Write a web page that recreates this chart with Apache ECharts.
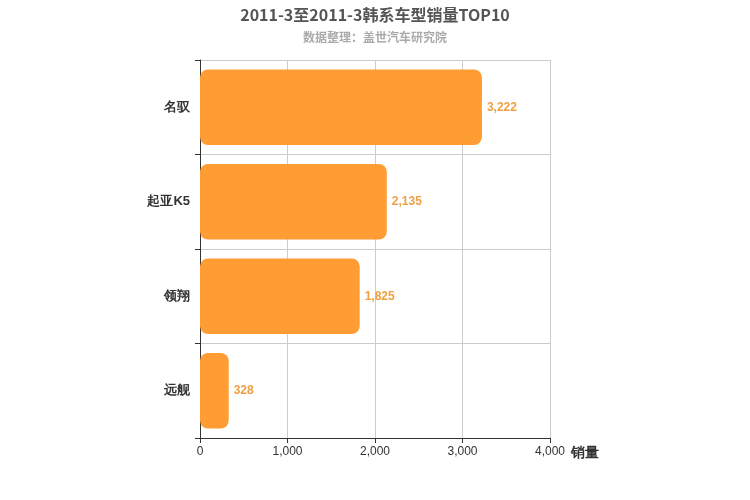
<!DOCTYPE html>
<html><head><meta charset="utf-8">
<script src="https://cdn.jsdelivr.net/npm/echarts@6/dist/echarts.min.js"></script>
<style>html,body{margin:0;padding:0;}#c{width:750px;height:500px;}</style>
</head><body><div id="c"></div>
<script>
const categories = ['名驭','起亚K5','领翔','远舰'];
const sales = [3222, 2135, 1825, 328];
const xTicks = [0, 1000, 2000, 3000, 4000];
const chart = echarts.init(document.getElementById('c'));
chart.setOption({
  title: {
    text: '2011-3至2011-3韩系车型销量TOP10',
    subtext: '数据整理：盖世汽车研究院',
    left: 'center', top: 2,
    textStyle: {fontSize: 16, fontWeight: 'bold', color: '#555', fontFamily: 'Noto Sans CJK SC'},
    subtextStyle: {fontSize: 12, fontWeight: 'bold', color: '#aaa', fontFamily: 'Noto Sans CJK SC'},
    itemGap: 8
  },
  grid: {left: 200, right: 200, top: 60, bottom: 62},
  xAxis: {
    type: 'value', min: xTicks[0], max: xTicks[xTicks.length-1], interval: 1000,
    name: '销量', nameLocation: 'end', nameGap: 15,
    nameTextStyle: {fontSize: 14, fontWeight: 'bold', color: '#333', verticalAlign: 'top', padding: [8,0,0,0]},
    axisLine: {show: true, lineStyle: {color: '#333'}},
    axisTick: {show: true},
    axisLabel: {color: '#333', fontSize: 12},
    splitLine: {lineStyle: {color: '#ccc'}}
  },
  yAxis: {
    type: 'category', data: categories, inverse: true,
    axisLine: {lineStyle: {color: '#333'}},
    axisTick: {show: true},
    axisLabel: {color: '#333', fontSize: 13, fontWeight: 'bold', margin: 10},
    splitLine: {show: true, lineStyle: {color: '#ccc'}}
  },
  series: [{
    type: 'bar', data: sales, barWidth: '80%',
    itemStyle: {color: '#ff9c33', borderRadius: 8},
    label: {show: true, position: 'right', color: '#f0a040', fontWeight: 'bold', fontSize: 12,
      formatter: p => p.value.toLocaleString('en-US')}
  }]
});
</script></body></html>
